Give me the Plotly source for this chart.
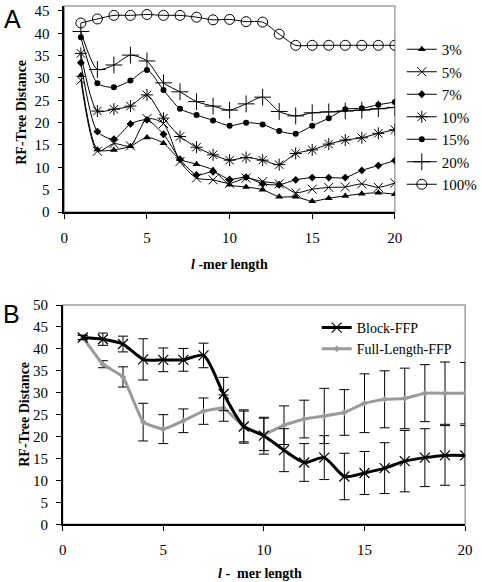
import plotly.graph_objects as go

# ---------------- data ----------------
kmer = list(range(1, 21))

pct_labels = ["3%", "5%", "7%", "10%", "15%", "20%", "100%"]
a_3 = [30.6, 14.0, 13.9, 14.7, 16.7, 15.4, 11.8, 10.7, 9.4, 6.1, 5.6, 5.0, 3.4, 3.4, 2.4, 3.1, 3.6, 4.1, 4.3, 4.0]
a_5 = [29.5, 13.6, 15.3, 14.8, 20.9, 19.8, 11.3, 7.6, 7.2, 6.4, 7.6, 6.8, 6.3, 4.3, 5.1, 5.5, 5.6, 6.3, 5.5, 6.5]
a_7 = [33.4, 18.0, 16.3, 19.7, 20.6, 17.4, 11.8, 8.3, 9.0, 7.3, 7.8, 6.3, 6.1, 7.2, 7.7, 7.7, 7.7, 9.3, 10.4, 11.5]
a_10 = [35.5, 22.6, 23.0, 23.7, 26.2, 21.0, 16.9, 14.5, 12.8, 11.6, 12.2, 11.6, 10.6, 13.1, 13.9, 15.2, 16.1, 16.6, 17.6, 18.4]
a_15 = [39.1, 28.8, 27.9, 29.4, 31.8, 27.3, 23.1, 21.7, 20.5, 19.3, 20.0, 19.6, 18.1, 17.5, 19.3, 21.0, 23.0, 23.2, 24.0, 24.6]
a_20 = [40.4, 31.9, 32.9, 35.1, 33.8, 28.9, 26.9, 24.7, 23.7, 22.8, 24.2, 25.7, 22.5, 21.5, 22.2, 22.4, 22.6, 22.8, 23.1, 23.4]
a_100 = [42.3, 43.2, 44.0, 44.0, 44.2, 44.0, 44.0, 43.6, 43.0, 43.1, 42.6, 42.5, 39.8, 37.3, 37.3, 37.3, 37.3, 37.3, 37.3, 37.3]

b_labels = ["Block-FFP", "Full-Length-FFP"]
block = [42.6, 42.2, 41.1, 37.6, 37.5, 37.5, 38.5, 29.7, 22.3, 20.2, 16.9, 14.1, 15.2, 10.9, 11.7, 12.8, 14.4, 15.2, 15.7, 15.7]
block_err = [0.5, 1.4, 1.8, 4.7, 2.7, 2.6, 2.8, 3.8, 3.8, 4.2, 4.9, 4.3, 5.0, 5.3, 4.9, 5.8, 7.0, 6.6, 6.8, 6.8]
full = [42.6, 36.5, 33.6, 23.3, 21.7, 23.6, 25.8, 26.5, 22.3, 20.5, 22.6, 24.0, 24.7, 25.5, 27.6, 28.5, 28.7, 29.9, 29.9, 29.9]
full_err = [0.5, 0.8, 2.3, 4.3, 3.3, 2.7, 3.0, 3.0, 3.5, 3.7, 4.4, 4.3, 6.3, 5.2, 6.7, 6.5, 6.9, 6.5, 7.1, 7.0]

a_ticks_y = [0, 5, 10, 15, 20, 25, 30, 35, 40, 45]
b_ticks_y = [0, 5, 10, 15, 20, 25, 30, 35, 40, 45, 50]
x_ticks = [0, 5, 10, 15, 20]

# ---------------- figure ----------------
W, H = 482, 582
SERIF = "Liberation Serif, Times New Roman, serif"
SANS = "Liberation Sans, Arial, sans-serif"

fig = go.Figure()

a_series = [a_3, a_5, a_7, a_10, a_15, a_20, a_100]
a_markers = [
    dict(symbol="triangle-up", size=7, color="black"),
    dict(symbol="x-thin", size=9, color="black", line=dict(width=1, color="black")),
    dict(symbol="diamond", size=6, color="black"),
    dict(symbol="asterisk", size=10, color="black", line=dict(width=1, color="black")),
    dict(symbol="circle", size=6, color="black"),
    dict(symbol="cross-thin", size=12, color="black", line=dict(width=1, color="black")),
    dict(symbol="circle-open", size=10, color="black", line=dict(width=1, color="black")),
]
for lab, ys, mk in zip(pct_labels, a_series, a_markers):
    fig.add_trace(go.Scatter(
        x=kmer, y=ys, name=lab, mode="lines+markers",
        line=dict(color="black", width=1, shape="spline", smoothing=0.7),
        marker=mk, xaxis="x", yaxis="y", legend="legend",
    ))

fig.add_trace(go.Scatter(
    x=kmer, y=full, name=b_labels[1], mode="lines+markers",
    line=dict(color="#9a9a9a", width=3, shape="spline", smoothing=0.3),
    marker=dict(symbol="diamond", size=5, color="#9a9a9a"),
    error_y=dict(type="data", array=full_err, visible=True, color="black", thickness=1, width=5),
    xaxis="x2", yaxis="y2", legend="legend2", legendrank=2,
))
fig.add_trace(go.Scatter(
    x=kmer, y=block, name=b_labels[0], mode="lines+markers",
    line=dict(color="black", width=3, shape="spline", smoothing=0.7),
    marker=dict(symbol="x-thin", size=10, color="black", line=dict(width=1.2, color="black")),
    error_y=dict(type="data", array=block_err, visible=True, color="black", thickness=1, width=5),
    xaxis="x2", yaxis="y2", legend="legend2", legendrank=1,
))

# plot-area geometry (paper fractions)
ax_l, ax_r = 65 / W, 399 / W
ay_b, ay_t = 1 - 212 / H, 1 - 6 / H
bx_l, bx_r = 63.3 / W, 470 / W
by_b, by_t = 1 - 524.3 / H, 1 - 305 / H

tickfont = dict(family=SERIF, size=15, color="black")
common_x = dict(showgrid=False, zeroline=False, showline=True, linecolor="black", linewidth=1.5,
                ticks="outside", ticklen=5, tickcolor="black", tickfont=tickfont,
                tickvals=x_ticks, automargin=False, ticklabelstandoff=6)
common_y = dict(showgrid=False, zeroline=False, showline=True, linecolor="black", linewidth=1.5,
                ticks="outside", ticklen=5, tickcolor="black", tickfont=tickfont, automargin=False,
                ticklabelstandoff=5)

fig.update_layout(
    width=W, height=H,
    margin=dict(l=0, r=0, t=0, b=0),
    paper_bgcolor="white", plot_bgcolor="white",
    xaxis=dict(domain=[ax_l, ax_r], range=[0, 20], anchor="y", **common_x),
    yaxis=dict(domain=[ay_b, ay_t], range=[0, 46.1], tickvals=a_ticks_y, anchor="x", **common_y),
    xaxis2=dict(domain=[bx_l, bx_r], range=[0, 20], anchor="y2", **common_x),
    yaxis2=dict(domain=[by_b, by_t], range=[0, 50], tickvals=b_ticks_y, anchor="x2", **common_y),
    legend=dict(x=406 / W, y=1 - 33 / H, xanchor="left", yanchor="top",
                font=dict(family=SERIF, size=15, color="black"),
                bgcolor="rgba(0,0,0,0)", tracegroupgap=0, itemwidth=30),
    legend2=dict(x=320 / W, y=1 - 312 / H, xanchor="left", yanchor="top",
                 font=dict(family=SERIF, size=14, color="black"),
                 bgcolor="rgba(0,0,0,0)", tracegroupgap=0, itemwidth=30),
    showlegend=True,
)

# gray frames around plot areas (below axes lines)
for xr, yr in [("x domain", "y domain"), ("x2 domain", "y2 domain")]:
    fig.add_shape(type="rect", xref=xr, yref=yr, x0=0, x1=1, y0=0, y1=1,
                  line=dict(color="#a0a0a0", width=1.5), layer="below")

title_font = dict(family=SERIF, size=14, color="black")
ann = dict(xref="paper", yref="paper", showarrow=False, xanchor="center", yanchor="middle")
fig.add_annotation(x=232 / W, y=1 - 265 / H, text="<b><i>l</i> -mer length</b>", font=title_font, **ann)
fig.add_annotation(x=22 / W, y=1 - 112 / H, textangle=-90, text="<b>RF-Tree Distance</b>",
                   font=title_font, **ann)
fig.add_annotation(x=263 / W, y=1 - 573 / H, text="<b><i>l</i> -  mer length</b>", font=title_font, **ann)
fig.add_annotation(x=24 / W, y=1 - 414 / H, textangle=-90, text="<b>RF-Tree Distance</b>",
                   font=title_font, **ann)

panel_font = dict(family=SANS, size=25, color="black")
fig.add_annotation(x=13 / W, y=1 - 19 / H, text="A", font=panel_font, **ann)
fig.add_annotation(x=12 / W, y=1 - 314 / H, text="B", font=panel_font, **ann)

fig.write_html(
    "out.html",
    config={"displayModeBar": False},
    post_script="document.body.style.margin='0px';document.body.style.overflow='hidden';",
)
